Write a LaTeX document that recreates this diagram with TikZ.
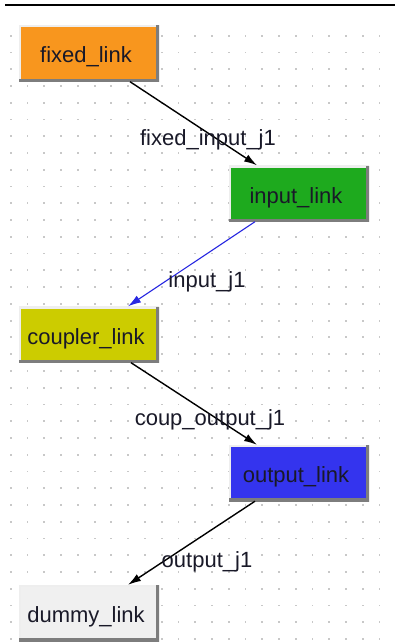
\documentclass[tikz,border=0pt]{standalone}
\usepackage{fontspec}
\setmainfont{Liberation Sans}
\usetikzlibrary{arrows.meta}
\definecolor{cOrange}{RGB}{248,150,30}
\definecolor{cGreen}{RGB}{30,170,30}
\definecolor{cOlive}{RGB}{204,204,0}
\definecolor{cBlue}{RGB}{52,52,238}
\definecolor{cDummy}{RGB}{240,240,240}
\definecolor{cDot}{RGB}{200,200,200}
\definecolor{cShadow}{RGB}{125,125,125}
\definecolor{cLight}{RGB}{238,238,238}
\definecolor{cEdgeBlue}{RGB}{40,40,225}
\definecolor{cText}{RGB}{25,25,40}
\tikzset{
  linkbox/.style={rectangle, minimum width=140pt, minimum height=56pt, inner sep=0pt,
    text height=19pt, text depth=0pt,
    execute at begin node={\hspace*{-6pt}},
    text=cText, font=\fontsize{22}{26}\selectfont,
    path picture={
      \draw[cLight, line width=4pt]
        (path picture bounding box.south west) -- (path picture bounding box.north west)
        -- (path picture bounding box.north east);
      \draw[cShadow, line width=6pt]
        (path picture bounding box.south west) -- (path picture bounding box.south east)
        -- (path picture bounding box.north east);
    }},
  conn/.style={line width=1.4pt, -{Latex[length=13pt,width=8pt]}},
  jlabel/.style={text=cText, font=\fontsize{22}{26}\selectfont, inner sep=0pt},
  griddot/.style={fill=cDot, draw=none}
}
\begin{document}
\begin{tikzpicture}[x=1pt,y=-1pt]
\useasboundingbox (0,0) rectangle (395,642);
\fill[white] (0,0) rectangle (395,642);
% dot grid
\foreach \i in {0,...,22} {
  \foreach \j in {0,...,36} {
    \fill[cDot] ({10.8+16.76*\i-0.9},{35.7+16.76*\j-0.9}) rectangle ++(1.8,1.8);
  }
}
% top rule
\draw[black, line width=2pt] (5,5) -- (395,5);
% nodes
\node[linkbox, fill=cOrange] (fixed) at (89,53.5) {fixed\_link};
\node[linkbox, fill=cGreen] (input) at (299,193.5) {input\_link};
\node[linkbox, fill=cOlive] (coupler) at (89,334.5) {coupler\_link};
\node[linkbox, fill=cBlue] (output) at (299,473) {output\_link};
\node[linkbox, fill=cDummy] (dummy) at (89,613) {dummy\_link};
% connectors
\draw[conn] ([xshift=41pt]fixed.south) -- ([xshift=-42pt]input.north);
\draw[conn, cEdgeBlue, line width=1.1pt] ([xshift=-44pt]input.south) -- ([xshift=39pt]coupler.north);
\draw[conn] ([xshift=42pt]coupler.south) -- ([xshift=-42pt]output.north);
\draw[conn] ([xshift=-44pt]output.south) -- ([xshift=39pt]dummy.north);
% labels
\node[jlabel] (l1) at (208,140) {fixed\_input\_j1};
\node[jlabel] (l2) at (207,282) {input\_j1};
\node[jlabel] (l3) at (210,420) {coup\_output\_j1};
\node[jlabel] (l4) at (207,562) {output\_j1};
\end{tikzpicture}
\end{document}
